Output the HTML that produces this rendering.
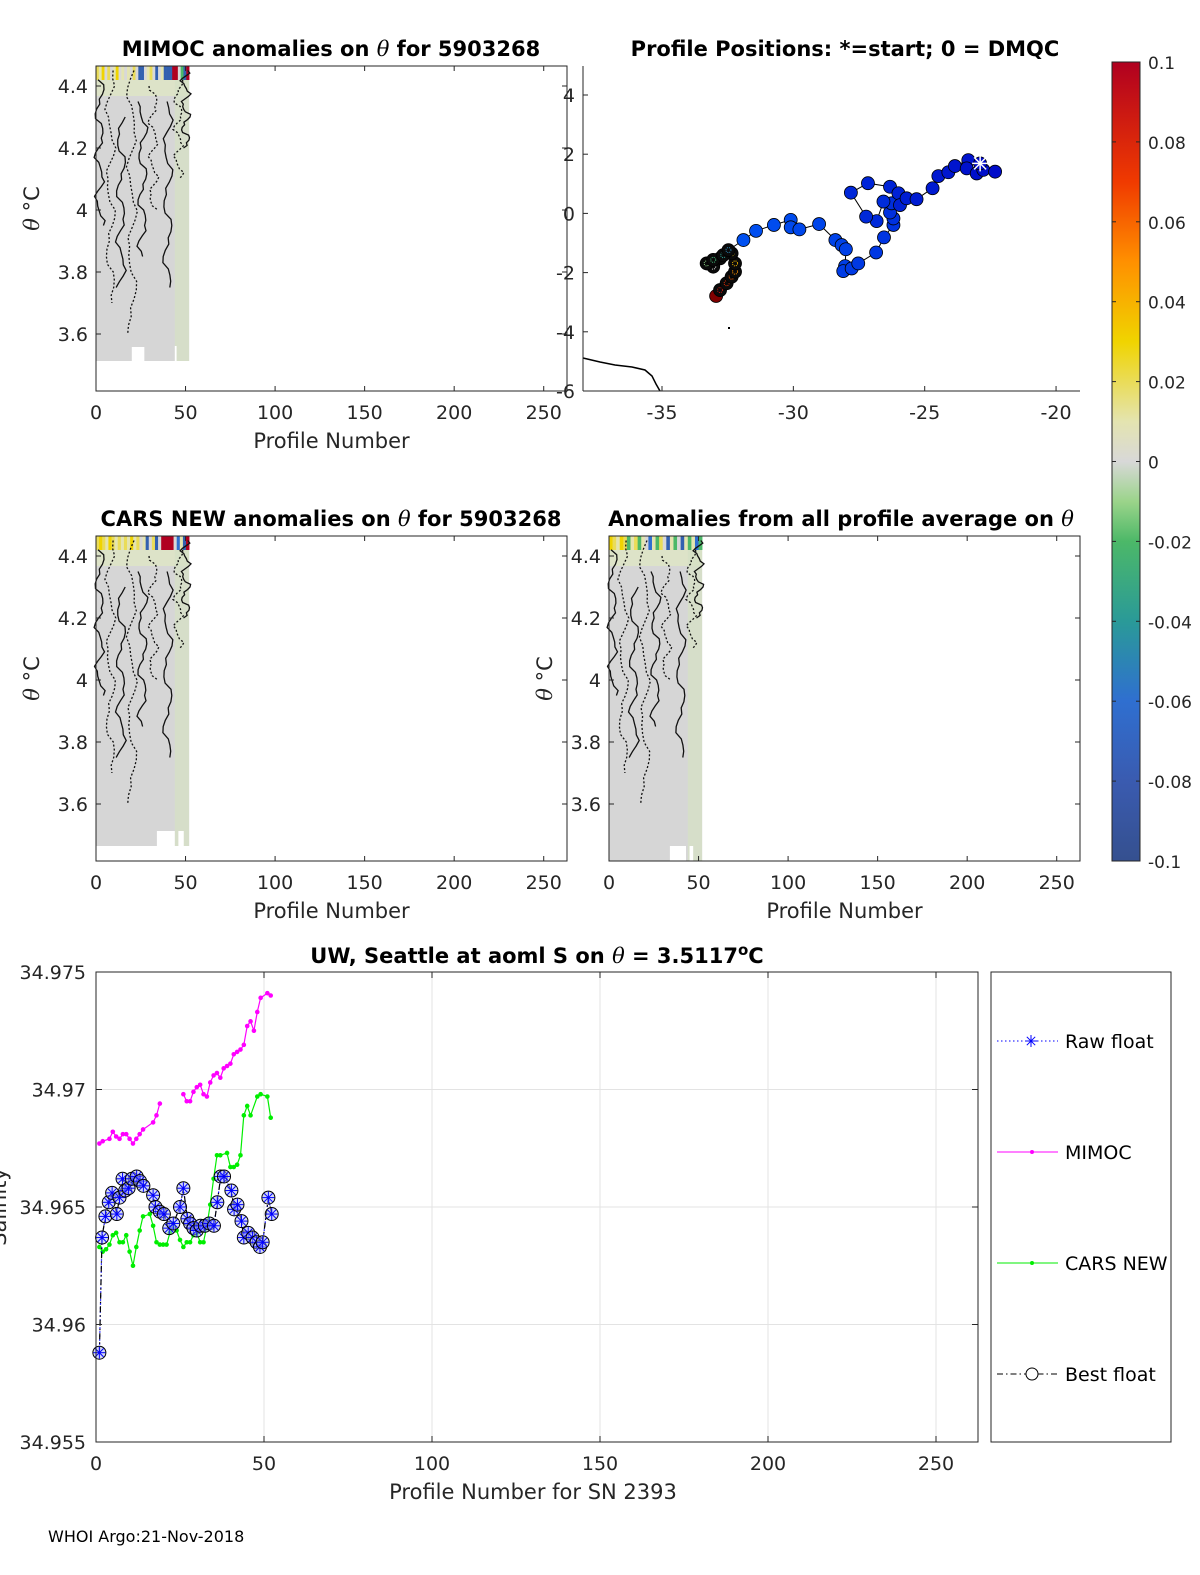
<!DOCTYPE html>
<html><head><meta charset="utf-8"><style>
html,body{margin:0;padding:0;background:#fff}
svg{display:block;font-family:"DejaVu Sans","Liberation Sans",sans-serif}
</style></head><body>
<svg id="fig" width="1200" height="1575" viewBox="0 0 1200 1575" xmlns="http://www.w3.org/2000/svg">
<defs>
<linearGradient id="cbar" x1="0" y1="1" x2="0" y2="0">
<stop offset="0" stop-color="#35508f"/><stop offset="0.1" stop-color="#3a5bb0"/>
<stop offset="0.2" stop-color="#2f6fd0"/><stop offset="0.3" stop-color="#2a9a98"/>
<stop offset="0.4" stop-color="#4cb868"/><stop offset="0.45" stop-color="#9bd48a"/>
<stop offset="0.5" stop-color="#d8d8d8"/><stop offset="0.55" stop-color="#e4e4b0"/>
<stop offset="0.65" stop-color="#f0d400"/><stop offset="0.75" stop-color="#ff9000"/>
<stop offset="0.85" stop-color="#f03a00"/><stop offset="1" stop-color="#b00020"/>
</linearGradient>
</defs>
<g id="root"></g>
</svg>
<script>
// ---- bottom chart data ----
const mimocX=[1,2,4,5,6,7,8,9,10,11,12,13,14,17,18,19,null,26,27,28,29,30,31,32,33,34,35,36,37,38,39,40,41,42,43,44,45,46,47,48,49,51,52];
const mimocS=[34.9677,34.9678,34.9679,34.9682,34.9680,34.9679,34.9681,34.9681,34.9679,34.9677,34.9679,34.9681,34.9683,34.9686,34.9689,34.9694,null,34.9698,34.9695,34.9695,34.9699,34.9701,34.9702,34.9698,34.9697,34.9703,34.9706,34.9707,34.9705,34.9709,34.9710,34.9711,34.9715,34.9716,34.9717,34.9719,34.9727,34.9729,34.9725,34.9733,34.9739,34.9741,34.9740];
const carsX=[1,2,3,4,5,6,7,8,9,10,11,12,13,14,16,17,18,19,20,21,22,23,24,25,26,27,28,29,30,31,32,33,34,35,36,37,39,40,41,42,43,44,45,46,48,49,51,52];
const carsS=[34.9633,34.9631,34.9632,34.9634,34.9638,34.9639,34.9635,34.9635,34.9638,34.9631,34.9625,34.9633,34.9640,34.9646,34.9647,34.9642,34.9635,34.9634,34.9634,34.9634,34.9639,34.9643,34.9640,34.9636,34.9633,34.9635,34.9635,34.9638,34.9639,34.9635,34.9635,34.9642,34.9651,34.9662,34.9672,34.9672,34.9673,34.9667,34.9667,34.9668,34.9672,34.9689,34.9693,34.9689,34.9697,34.9698,34.9697,34.9688];
const floatX=[1,1.8,2.8,3.8,4.8,6.2,7,7.9,8.7,9.7,10.7,12.1,13.1,14.1,17,17.7,19,20.2,21.8,23,25,26,27.2,28,29,30,31.1,32.4,33.7,35.1,36.1,37.1,38.1,40.3,41.1,42.1,43.3,44,45.3,46.6,47.8,48.8,49.6,51.3,52.3];
const floatS=[34.9588,34.9637,34.9646,34.9652,34.9656,34.9647,34.9654,34.9662,34.9657,34.9658,34.9662,34.9663,34.9661,34.9659,34.9655,34.9650,34.9648,34.9647,34.9641,34.9643,34.9650,34.9658,34.9645,34.9643,34.9641,34.9640,34.9642,34.9642,34.9643,34.9642,34.9652,34.9663,34.9663,34.9657,34.9649,34.9651,34.9644,34.9637,34.9639,34.9637,34.9635,34.9633,34.9635,34.9654,34.9647];
const salTicks=[34.955,34.96,34.965,34.97,34.975];
const salTickLabels=["34.955","34.96","34.965","34.97","34.975"];
const profTicks=[0,50,100,150,200,250];
// ---- map data ----
const trackLon=[-22.89,-22.32,-22.77,-23.02,-23.40,-23.34,-23.85,-24.10,-24.48,-24.70,-25.31,-25.69,-25.94,-26.00,-26.32,-27.16,-27.81,-27.23,-26.83,-26.57,-26.26,-26.32,-26.19,-26.19,-26.55,-26.85,-27.53,-27.78,-28.10,-28.03,-28.00,-28.16,-28.40,-29.02,-29.77,-30.10,-30.10,-30.74,-31.42,-31.90,-32.47,-32.67,-33.05,-33.30,-33.05,-32.79,-32.35,-32.22,-32.22,-32.35,-32.54,-32.79,-32.94];
const trackLat=[1.69,1.41,1.47,1.35,1.52,1.80,1.60,1.39,1.26,0.85,0.48,0.51,0.28,0.68,0.90,1.02,0.70,-0.11,-0.26,0.40,0.34,0.03,-0.17,-0.39,-0.81,-1.32,-1.69,-1.86,-1.95,-1.78,-1.21,-1.07,-0.90,-0.36,-0.54,-0.47,-0.22,-0.39,-0.59,-0.90,-1.24,-1.41,-1.57,-1.69,-1.80,-1.52,-1.35,-1.69,-1.97,-2.14,-2.36,-2.59,-2.79];
const lonTicks=[-35,-30,-25,-20];
const latTicks=[-6,-4,-2,0,2,4];
const thetaTicks=[3.6,3.8,4,4.2,4.4];
const cbarTicks=[0.1,0.08,0.06,0.04,0.02,0,-0.02,-0.04,-0.06,-0.08,-0.1];
const topA1=[0.02,0.01,0.03,0,0.02,0,0.01,0.03,0,0.01,0,0.01,0,0.02,0,-0.08,-0.08,0,0.01,0.02,0,-0.08,0,0.01,-0.08,-0.08,-0.08,0.1,0.1,0,-0.02,-0.08,0.1];
const topA3=[0.02,0.03,0.02,0.01,0.03,0.02,0.01,0.02,0.01,0.02,0.01,0.03,0.01,0.02,0,0.01,-0.08,0,0.02,-0.08,0,0.1,0.1,0.1,0.1,0,-0.06,0.01,-0.08,0.1];
const topA4=[0.03,0.02,0.01,0.03,0.02,-0.02,0.01,0.02,-0.02,0.01,0,-0.06,0.01,-0.02,0.02,0,-0.08,0.01,-0.02,0,-0.08,0.01,-0.02,0.01,-0.06,-0.02];

const NS="http://www.w3.org/2000/svg";
const root=document.getElementById('root');
function el(tag,attrs,parent,text){const e=document.createElementNS(NS,tag);for(const k in attrs)e.setAttribute(k,attrs[k]);if(text!==undefined)e.textContent=text;(parent||root).appendChild(e);return e;}
function cmap(v){const t=Math.max(0,Math.min(1,(v+0.1)/0.2));
 const stops=[[0,[53,80,143]],[0.2,[47,111,208]],[0.3,[42,154,152]],[0.4,[76,184,104]],[0.45,[155,212,138]],[0.5,[216,216,216]],[0.55,[228,228,176]],[0.65,[240,212,0]],[0.75,[255,144,0]],[0.85,[240,58,0]],[1,[176,0,32]]];
 for(let i=1;i<stops.length;i++){if(t<=stops[i][0]){const a=stops[i-1],b=stops[i],f=(t-a[0])/(b[0]-a[0]);return 'rgb('+a[1].map((c,j)=>Math.round(c+(b[1][j]-c)*f)).join(',')+')';}}return 'rgb(176,0,32)';}
function titleText(x,y,parts,name){const t=el('text',{x:x,y:y,'text-anchor':'middle','font-size':21,'font-weight':'bold',fill:'#000'},root);
 
 
 parts.forEach(p=>{if(p==='θ')el('tspan',{'font-style':'italic','font-weight':'normal','font-family':'"DejaVu Serif",serif'},t,'θ');else el('tspan',{},t,p);});return t;}

function thetaPanel(name,x0,y0,w,h,topA,xlabel,titleParts,titleX,heatEnd,gapList){
 const g=el('g',{},root);
 
 
 const xs=v=>x0+v*(w/263), ys=v=>y0+20+(4.4-v)*310;
 const hb=el('rect',{x:xs(0),y:y0,width:xs(52)-xs(0),height:heatEnd-y0,fill:'#d6d6d6'},g);
 
 
 el('rect',{x:xs(0),y:y0,width:xs(52)-xs(0),height:30,fill:'#dfe6c4',opacity:0.8},g);
 el('rect',{x:xs(44),y:y0,width:xs(52)-xs(44),height:heatEnd-y0,fill:'#d6e0c6',opacity:0.8},g);
 const cw=(xs(52)-xs(0))/topA.length;
 topA.forEach((v,i)=>{const c=el('rect',{x:xs(0)+i*cw,y:y0,width:cw+0.3,height:14,fill:cmap(v)},g);
  
  });
 gapList.forEach(gp=>el('rect',{x:xs(gp[0]),y:heatEnd-gp[2],width:xs(gp[1])-xs(gp[0]),height:gp[2]+1,fill:'#fff'},g));
 const cl=[[2,4.42,3.95],[8,4.45,3.7],[14,4.3,3.75],[20,4.45,3.6],[26,4.35,3.85],[32,4.4,4.0],[40,4.35,3.75],[46,4.42,4.1],[50,4.45,4.2]];
 cl.forEach((c,k)=>{let d='';const n=30;for(let i=0;i<=n;i++){const th=c[1]-(c[1]-c[2])*i/n;const xx=xs(c[0]+Math.sin(i*0.7+k)*2.2+((i*3+k)%4-1.5)*0.6);d+=(i?'L':'M')+xx.toFixed(1)+','+ys(th).toFixed(1);}
  el('path',{d:d,fill:'none',stroke:'#111','stroke-width':1.3,'stroke-dasharray':k%2?'2,2':'none'},g);});
 el('rect',{x:x0,y:y0,width:w,height:h,fill:'none',stroke:'#262626','stroke-width':1},g);
 profTicks.forEach(t=>{el('line',{x1:xs(t),x2:xs(t),y1:y0+h,y2:y0+h-5,stroke:'#262626'},g);el('line',{x1:xs(t),x2:xs(t),y1:y0,y2:y0+5,stroke:'#262626'},g);
  el('text',{x:xs(t),y:y0+h+28,'text-anchor':'middle','font-size':19,fill:'#262626'},g,t);});
 thetaTicks.forEach(t=>{el('line',{x1:x0,x2:x0+5,y1:ys(t),y2:ys(t),stroke:'#262626'},g);el('line',{x1:x0+w,x2:x0+w-5,y1:ys(t),y2:ys(t),stroke:'#262626'},g);
  el('text',{x:x0-8,y:ys(t)+7,'text-anchor':'end','font-size':19,fill:'#262626'},g,t);});
 const xl=el('text',{x:x0+w/2,y:y0+h+57,'text-anchor':'middle','font-size':21,fill:'#262626'},g,xlabel);
 
 
 const yl=el('text',{x:0,y:0,transform:'translate('+(x0-57)+','+(y0+h/2-20)+') rotate(-90)','text-anchor':'middle','font-size':21,fill:'#262626'},g);
 
 
 el('tspan',{'font-style':'italic','font-family':'"DejaVu Serif",serif'},yl,'θ');
 el('tspan',{},yl,' °C');
 titleText(titleX,y0-10,titleParts,'panel-title');
}
thetaPanel('mimoc-anomaly-panel',96,66,471,325,topA1,'Profile Number',['MIMOC anomalies on ','θ','  for 5903268'],331,361,[[20,27,14],[44,45,15]]);
thetaPanel('cars-anomaly-panel',96,536,471,325,topA3,'Profile Number',['CARS NEW anomalies on ','θ',' for 5903268'],331,846,[[34,44,15],[46,49,15]]);
thetaPanel('profile-average-anomaly-panel',609,536,471,325,topA4,'Profile Number',['Anomalies from all profile average on ','θ'],841,861,[[34,43,15],[45,47,15]]);

// ---- map ----
(function(){
 const x0=583,y0=66,w=497,h=325;
 const g=el('g',{},root);
 
 
 const xs=v=>662+(v+35)*26.27, ys=v=>95+(4-v)*29.6;
 el('path',{d:'M583,358 L600,362 L615,365 L632,367 L645,370 L652,376 L656,384 L660,391',fill:'none',stroke:'#000','stroke-width':1.5},g);
 el('rect',{x:728,y:327,width:2,height:2,fill:'#000'},g);
 let d='';trackLon.forEach((v,i)=>{d+=(i?'L':'M')+xs(v).toFixed(1)+','+ys(trackLat[i]).toFixed(1);});
 const tl=el('path',{d:d,fill:'none',stroke:'#000','stroke-width':1},g);
 
 
 const n=trackLon.length;
 for(let i=n-1;i>=0;i--){let col;
  if(i<40){const f=i/39;col='rgb(0,'+Math.round(10+f*70)+','+Math.round(200+f*40)+')';}
  else col='#0a0a0a';
  const c=el('circle',{cx:xs(trackLon[i]),cy:ys(trackLat[i]),r:6.5,fill:i==n-1?'#800000':col,stroke:'#000','stroke-width':0.8},g);
  
  
  if(i>=40&&i<n-1){const f=(i-40)/(n-41);el('circle',{cx:xs(trackLon[i]),cy:ys(trackLat[i]),r:2.5,fill:'none',stroke:cmap(-0.05+f*0.15),'stroke-width':1,'stroke-dasharray':'1,1'},g);}
 }
 const sx=xs(trackLon[0]),sy=ys(trackLat[0]);
 [[0,8],[8,0],[6,6],[6,-6]].forEach(p=>el('line',{x1:sx-p[0],y1:sy-p[1],x2:sx+p[0],y2:sy+p[1],stroke:'#fff','stroke-width':1.5},g));
 el('line',{x1:x0,y1:y0,x2:x0,y2:y0+h,stroke:'#262626'},g);
 el('line',{x1:x0,y1:y0+h,x2:x0+w,y2:y0+h,stroke:'#262626'},g);
 lonTicks.forEach(t=>{el('line',{x1:xs(t),x2:xs(t),y1:y0+h,y2:y0+h-5,stroke:'#262626'},g);
  el('text',{x:xs(t),y:y0+h+28,'text-anchor':'middle','font-size':19,fill:'#262626'},g,t);});
 latTicks.forEach(t=>{el('line',{x1:x0,x2:x0+5,y1:ys(t),y2:ys(t),stroke:'#262626'},g);
  el('text',{x:x0-8,y:ys(t)+7,'text-anchor':'end','font-size':19,fill:'#262626'},g,t);});
 titleText(845,56,['Profile Positions: *=start; 0 = DMQC'],'map-title');
})();

// ---- colorbar ----
(function(){
 const g=el('g',{},root);
 
 
 el('rect',{x:1112,y:62,width:28,height:799,fill:'url(#cbar)',stroke:'#262626'},g);
 cbarTicks.forEach(t=>{const y=62+(0.1-t)/0.2*799;
  el('line',{x1:1112,x2:1116,y1:y,y2:y,stroke:'#262626'},g);el('line',{x1:1136,x2:1140,y1:y,y2:y,stroke:'#262626'},g);
  el('text',{x:1148,y:y+7,'font-size':17,fill:'#262626'},g,t);});
})();

// ---- salinity chart ----
(function(){
 const x0=96,y0=972,w=882,h=470;
 const g=el('g',{},root);
 
 
 const xs=v=>x0+v*3.36, ys=v=>y0+(34.975-v)*23500;
 profTicks.forEach(t=>{if(t>0)el('line',{x1:xs(t),x2:xs(t),y1:y0,y2:y0+h,stroke:'#e3e3e3'},g);});
 salTicks.forEach(t=>{el('line',{x1:x0,x2:x0+w,y1:ys(t),y2:ys(t),stroke:'#e3e3e3'},g);});
 function line(X,Y,color,dash,name){let d='',pen=false;X.forEach((x,i)=>{if(x===null){pen=false;return;}d+=(pen?'L':'M')+xs(x).toFixed(1)+','+ys(Y[i]).toFixed(1);pen=true;});
  const p=el('path',{d:d,fill:'none',stroke:color,'stroke-width':1.2,'stroke-dasharray':dash||'none'},g);
  
  }
 line(mimocX,mimocS,'#ff00ff','','mimoc-line');
 mimocX.forEach((x,i)=>{if(x===null)return;const c=el('circle',{cx:xs(x),cy:ys(mimocS[i]),r:2.3,fill:'#ff00ff'},g);
  
  });
 line(carsX,carsS,'#00ee00','','cars-new-line');
 carsX.forEach((x,i)=>{const c=el('circle',{cx:xs(x),cy:ys(carsS[i]),r:2.3,fill:'#00ee00'},g);
  
  });
 line(floatX,floatS,'#0000ff','1.5,2.5','raw-float-line');
 line(floatX,floatS,'#000','6,3,1.5,3','best-float-line');
 floatX.forEach((x,i)=>{const cx=xs(x),cy=ys(floatS[i]);
  const c=el('circle',{cx:cx,cy:cy,r:6.5,fill:'#aab4ee','fill-opacity':0.5,stroke:'#000','stroke-width':1},g);
  
  
  [[0,6],[6,0],[4.2,4.2],[4.2,-4.2]].forEach(p=>el('line',{x1:cx-p[0],y1:cy-p[1],x2:cx+p[0],y2:cy+p[1],stroke:'#0000ff','stroke-width':1},g));});
 el('rect',{x:x0,y:y0,width:w,height:h,fill:'none',stroke:'#262626'},g);
 profTicks.forEach(t=>{el('line',{x1:xs(t),x2:xs(t),y1:y0+h,y2:y0+h-6,stroke:'#262626'},g);el('line',{x1:xs(t),x2:xs(t),y1:y0,y2:y0+6,stroke:'#262626'},g);
  el('text',{x:xs(t),y:y0+h+28,'text-anchor':'middle','font-size':19,fill:'#262626'},g,t);});
 salTicks.forEach((t,i)=>{el('line',{x1:x0,x2:x0+6,y1:ys(t),y2:ys(t),stroke:'#262626'},g);el('line',{x1:x0+w,x2:x0+w-6,y1:ys(t),y2:ys(t),stroke:'#262626'},g);
  el('text',{x:x0-10,y:ys(t)+7,'text-anchor':'end','font-size':19,fill:'#262626'},g,salTickLabels[i]);});
 const xl=el('text',{x:x0+w/2-4,y:y0+h+57,'text-anchor':'middle','font-size':21,fill:'#262626'},g,'Profile Number for SN 2393');
 
 
 const yl=el('text',{x:0,y:0,transform:'translate(6,1207) rotate(-90)','text-anchor':'middle','font-size':21,fill:'#262626'},g,'Salinity');
 
 
 const tt=titleText(537,963,['UW, Seattle at aoml S on ','θ',' = 3.5117'],'salinity-title');
 el('tspan',{dy:-8,'font-size':15},tt,'o');
 el('tspan',{dy:8},tt,'C');
 const lg=el('g',{},root);
 
 
 el('rect',{x:991,y:972,width:180,height:470,fill:'#fff',stroke:'#262626'},lg);
 const items=[['Raw float',1041],['MIMOC',1152],['CARS NEW',1263],['Best float',1374]];
 items.forEach((it,k)=>{const y=it[1];const e=el('g',{},lg);
  
  
  if(k==0){el('line',{x1:997,x2:1058,y1:y,y2:y,stroke:'#0000ff','stroke-dasharray':'1.5,2.5'},e);
   [[0,6],[6,0],[4.2,4.2],[4.2,-4.2]].forEach(p=>el('line',{x1:1031-p[0],y1:y-p[1],x2:1031+p[0],y2:y+p[1],stroke:'#0000ff'},e));}
  if(k==1){el('line',{x1:997,x2:1058,y1:y,y2:y,stroke:'#ff00ff'},e);el('circle',{cx:1032,cy:y,r:2,fill:'#ff00ff'},e);}
  if(k==2){el('line',{x1:997,x2:1058,y1:y,y2:y,stroke:'#00ee00'},e);el('circle',{cx:1032,cy:y,r:2,fill:'#00ee00'},e);}
  if(k==3){el('line',{x1:997,x2:1058,y1:y,y2:y,stroke:'#000','stroke-dasharray':'6,3,1.5,3'},e);el('circle',{cx:1032,cy:y,r:6,fill:'#fff',stroke:'#000'},e);}
  el('text',{x:1065,y:y+7,'font-size':19,fill:'#000'},e,it[0]);});
})();
const ft=el('text',{x:48,y:1542,'font-size':16,fill:'#000'},root,'WHOI Argo:21-Nov-2018');


</script>
</body></html>
